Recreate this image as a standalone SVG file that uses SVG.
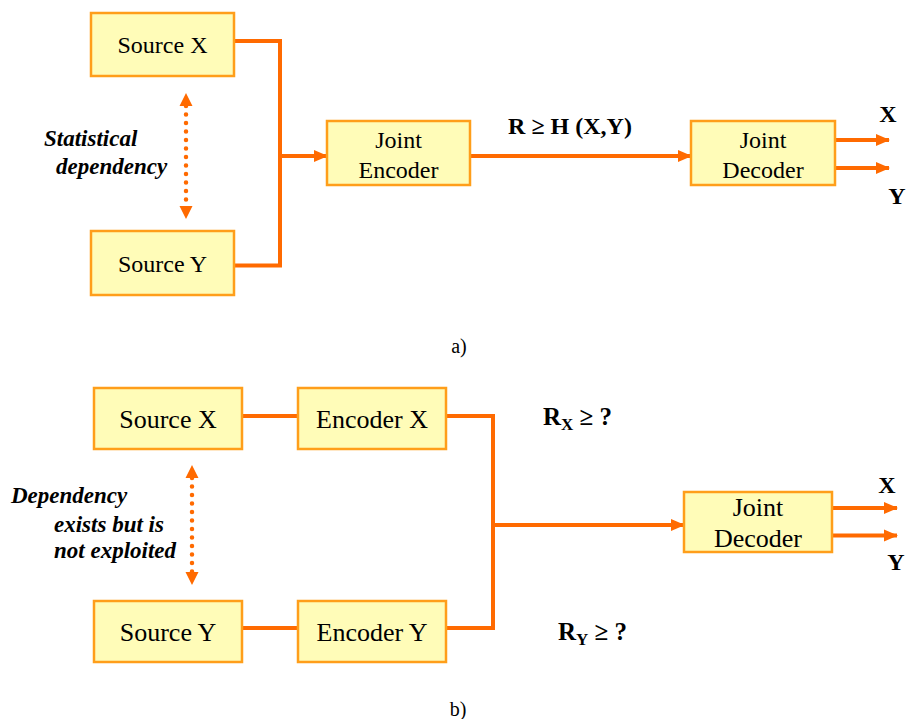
<svg xmlns="http://www.w3.org/2000/svg" width="906" height="719" viewBox="0 0 906 719">
<style>
.box{fill:#FFFCB8;stroke:#FF9E1A;stroke-width:2.5}
.lbl{font-family:"Liberation Serif","Times New Roman",serif;fill:#000;text-anchor:middle}
.a{font-size:24px}
.b{font-size:26px}
.bold{font-family:"Liberation Serif","Times New Roman",serif;font-weight:bold;fill:#000}
.bi{font-family:"Liberation Serif","Times New Roman",serif;font-weight:bold;font-style:italic;font-size:23px;fill:#000}
.wire{fill:none;stroke:#FF6A00;stroke-width:4}
.arr{fill:none;stroke:#FF6A00;stroke-width:4;marker-end:url(#ah)}
.dot{fill:none;stroke:#FF6A00;stroke-width:4.5;stroke-linecap:round;stroke-dasharray:0 8.5;}
</style>
<defs>
<marker id="ah" markerUnits="userSpaceOnUse" markerWidth="14" markerHeight="14" viewBox="0 0 14 14" refX="13" refY="7" orient="auto">
<path d="M0,1 L14,7 L0,13 Z" fill="#FF6A00"/>
</marker>
</defs>

<g id="connectors">
<!-- part a -->
<polyline class="wire" points="234,41 280,41 280,265.5 234,265.5"/>
<line class="arr" x1="280" y1="156" x2="327" y2="156"/>
<line class="arr" x1="470" y1="156" x2="691" y2="156"/>
<line class="arr" x1="835" y1="140" x2="889" y2="140"/>
<line class="arr" x1="835" y1="168" x2="889" y2="168"/>
<line class="dot" x1="186" y1="106" x2="186" y2="206"/>
<path d="M179.5,106 L186,93 L192.5,106 Z M179.5,206 L186,219 L192.5,206 Z" fill="#FF6A00"/>
<!-- part b -->
<line class="wire" x1="242" y1="416" x2="298" y2="416"/>
<line class="wire" x1="242" y1="628" x2="298" y2="628"/>
<polyline class="wire" points="446,416 493,416 493,628 446,628"/>
<line class="arr" x1="493" y1="525" x2="684" y2="525"/>
<line class="arr" x1="832" y1="508" x2="897" y2="508"/>
<line class="arr" x1="832" y1="535.5" x2="897" y2="535.5"/>
<line class="dot" x1="192" y1="478" x2="192" y2="572"/>
<path d="M185.5,478 L192,465 L198.5,478 Z M185.5,572 L192,585 L198.5,572 Z" fill="#FF6A00"/>
</g>

<g id="sourceXa"><rect class="box" x="91" y="13" width="143" height="63"/><text class="lbl a" x="162.5" y="53">Source X</text></g>
<g id="sourceYa"><rect class="box" x="91" y="231" width="143" height="64"/><text class="lbl a" x="162.5" y="272">Source Y</text></g>
<g id="jointEncoder"><rect class="box" x="327" y="121" width="143" height="64"/><text class="lbl a" x="398.5" y="148">Joint</text><text class="lbl a" x="398.5" y="178">Encoder</text></g>
<g id="jointDecoderA"><rect class="box" x="691" y="121" width="144" height="64"/><text class="lbl a" x="763" y="148">Joint</text><text class="lbl a" x="763" y="178">Decoder</text></g>

<g id="sourceXb"><rect class="box" x="94" y="388" width="148" height="61"/><text class="lbl b" x="168" y="428">Source X</text></g>
<g id="encoderX"><rect class="box" x="298" y="388" width="148" height="61"/><text class="lbl b" x="372" y="428">Encoder X</text></g>
<g id="sourceYb"><rect class="box" x="94" y="601" width="148" height="61"/><text class="lbl b" x="168" y="641">Source Y</text></g>
<g id="encoderY"><rect class="box" x="298" y="601" width="148" height="61"/><text class="lbl b" x="372" y="641">Encoder Y</text></g>
<g id="jointDecoderB"><rect class="box" x="684" y="492" width="148" height="60"/><text class="lbl b" x="758" y="516">Joint</text><text class="lbl b" x="758" y="547">Decoder</text></g>

<g id="labels">
<text class="bold" x="570" y="134" font-size="24" text-anchor="middle">R ≥ H (X,Y)</text>
<text class="bold" x="888" y="122" font-size="24" text-anchor="middle">X</text>
<text class="bold" x="897" y="204" font-size="24" text-anchor="middle">Y</text>
<text class="bi" x="44" y="146">Statistical</text>
<text class="bi" x="56" y="174">dependency</text>
<text class="lbl" x="459" y="353" font-size="20">a)</text>

<text class="bold" x="543" y="425" font-size="25">R<tspan font-size="17" dy="5">X</tspan><tspan dy="-5"> ≥ ?</tspan></text>
<text class="bold" x="558" y="640" font-size="25">R<tspan font-size="17" dy="5">Y</tspan><tspan dy="-5"> ≥ ?</tspan></text>
<text class="bold" x="887" y="493" font-size="24" text-anchor="middle">X</text>
<text class="bold" x="896" y="570" font-size="24" text-anchor="middle">Y</text>
<text class="bi" x="11" y="503">Dependency</text>
<text class="bi" x="54" y="532">exists but is</text>
<text class="bi" x="54" y="558">not exploited</text>
<text class="lbl" x="458" y="716" font-size="20">b)</text>
</g>
</svg>
